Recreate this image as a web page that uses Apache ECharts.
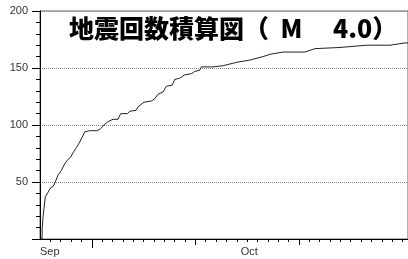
<!DOCTYPE html>
<html>
<head>
<meta charset="utf-8">
<script src="https://cdn.jsdelivr.net/npm/echarts@6/dist/echarts.min.js"></script>
<style>
  html, body { margin: 0; padding: 0; background: #fff; }
  #graph { width: 408px; height: 259px; }
</style>
</head>
<body>
<div id="graph"></div>
<script>
// 経過日数 (9/1 起点) と積算回数
var days = [0.30, 0.34, 0.45, 0.60, 0.79, 1.20, 1.60, 1.94, 2.29, 2.69, 3.18, 3.69, 4.08, 4.59,
    5.08, 5.43, 5.93, 6.28, 6.68, 7.43, 8.42, 8.92, 9.57, 10.16, 10.91, 11.66, 12.06, 13.05,
    13.41, 14.39, 14.65, 15.55, 16.64, 17.15, 17.64, 18.39, 18.88, 19.78, 20.13, 20.88, 21.63,
    22.62, 23.12, 23.87, 24.11, 25.86, 27.35, 29.40, 31.39, 33.33, 34.38, 36.32, 39.61, 41.11,
    44.84, 48.83, 52.32, 54.56, 55.0];
var counts = [0, 10, 19, 27, 37, 41, 45, 46, 50, 56, 60, 66, 69, 72,
    77, 80, 85, 89, 94, 95, 95, 96, 100, 103, 105, 105, 110, 110,
    112, 113, 116, 120, 121, 123, 127, 129, 134, 135, 140, 141, 144,
    145, 147, 148, 151, 151, 152, 155, 157, 160, 162, 164, 164, 167,
    168, 170, 170, 172, 172];

var monthNames = ['Sep', 'Oct'];
var monthDays = [0, 30];

// 目盛り (ほぼ 1.55 日おき)
var tickStep = 1.548;
var minorTicks = [];
for (var k = 1; k <= 35; k++) minorTicks.push(k * tickStep);
var majorTicks = [15 * tickStep, 25 * tickStep];
var firstTick = [5 * tickStep];

var yTicks = [0, 50, 100, 150, 200];

var seriesData = days.map(function (d, i) {
    return [d, counts[i]];
});

var fontFamily = '"Liberation Sans", Arial, sans-serif';

function baseX(extra) {
    var ax = {
        type: 'value',
        min: 0,
        max: 55,
        position: 'bottom',
        splitLine: {show: false},
        axisLine: {show: false},
        axisLabel: {show: false},
        axisTick: {show: false}
    };
    for (var key in extra) ax[key] = extra[key];
    return ax;
}

var option = {
    animation: false,
    backgroundColor: '#fff',
    title: {
        text: '地震回数積算図（  M　 4.0）',
        left: 64,
        top: 11,
        textStyle: {
            fontFamily: '"Noto Sans CJK JP", sans-serif',
            fontSize: 25,
            fontWeight: 900,
            color: '#000'
        }
    },
    grid: {
        left: 40,
        right: 0,
        top: 11,
        bottom: 20,
        show: true,
        borderColor: '#666',
        borderWidth: 1
    },
    xAxis: [
        baseX({
            axisLine: {show: true, onZero: false, lineStyle: {color: '#000', width: 1}},
            axisTick: {show: true, length: 3, customValues: minorTicks, lineStyle: {color: '#000'}},
            axisLabel: {
                show: true,
                customValues: monthDays,
                formatter: function (v) {
                    var i = monthDays.indexOf(v);
                    return i >= 0 ? monthNames[i] : '';
                },
                align: 'left',
                margin: 7,
                fontSize: 11,
                fontFamily: fontFamily,
                color: '#333'
            }
        }),
        baseX({
            axisTick: {show: true, length: 6, customValues: majorTicks, lineStyle: {color: '#000'}}
        }),
        baseX({
            axisTick: {show: true, length: 9, customValues: firstTick, lineStyle: {color: '#000'}}
        })
    ],
    yAxis: {
        type: 'value',
        min: yTicks[0],
        max: yTicks[yTicks.length - 1],
        interval: 50,
        axisLine: {show: true, onZero: false, lineStyle: {color: '#000', width: 1}},
        axisTick: {show: true, length: 8, lineStyle: {color: '#000'}},
        minorTick: {show: true, splitNumber: 5, length: 4, lineStyle: {color: '#000'}},
        axisLabel: {
            margin: 12,
            fontSize: 11,
            fontFamily: fontFamily,
            color: '#333',
            formatter: function (v) {
                return v === 0 ? '' : String(v);
            }
        },
        splitLine: {
            show: true,
            lineStyle: {color: '#888', type: [1, 1], width: 1}
        }
    },
    series: [{
        type: 'line',
        xAxisIndex: 0,
        data: seriesData,
        showSymbol: false,
        symbol: 'none',
        lineStyle: {color: '#222', width: 1},
        clip: true
    }]
};

var chart = echarts.init(document.getElementById('graph'));
chart.setOption(option);
</script>
</body>
</html>
